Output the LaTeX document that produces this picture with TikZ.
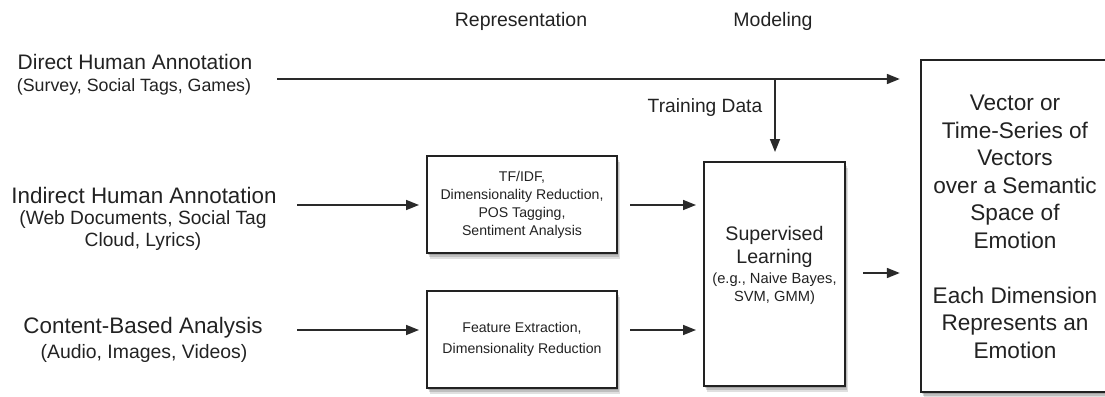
\documentclass[tikz,border=0pt]{standalone}
\usepackage{fontspec}
\setmainfont{Liberation Sans}
\usetikzlibrary{arrows.meta}
\definecolor{ink}{HTML}{222222}
\definecolor{wire}{HTML}{2A2A2A}
\tikzset{
  txt/.style={text=ink, inner sep=0pt, align=center},
  softshadow/.style={
    preaction={fill=black, opacity=0.15, transform canvas={xshift=1pt,yshift=-2pt}},
    preaction={fill=black, opacity=0.15, transform canvas={xshift=2pt,yshift=-4pt}},
    preaction={fill=black, opacity=0.12, transform canvas={xshift=3pt,yshift=-6pt}}},
  boxnode/.style={draw=ink, line width=2pt, fill=white, inner sep=0pt, softshadow},
  arr/.style={draw=wire, line width=1.7pt, -{Triangle[length=13pt,width=10pt]}},
}
\begin{document}
\begin{tikzpicture}[x=1pt,y=-1pt]
\useasboundingbox (0,0) rectangle (1105,396);
\clip (0,0) rectangle (1105,396);
% headings
\node[txt,font=\fontsize{19.5}{22}\selectfont] (rep) at (521,21) {Representation};
\node[txt,font=\fontsize{19.5}{22}\selectfont] (mod) at (773,21) {Modeling};
% left labels
\node[txt,font=\fontsize{21}{25}\selectfont] (direct) at (135,62) {Direct Human Annotation};
\node[txt,font=\fontsize{17.8}{22}\selectfont] (directsub) at (134,87) {(Survey, Social Tags, Games)};
\node[txt,font=\fontsize{22.4}{26}\selectfont] (indirect) at (144,195) {Indirect Human Annotation};
\node[txt,font=\fontsize{19.2}{22}\selectfont] (indirectsub) at (143,231) {(Web Documents, Social Tag\\Cloud, Lyrics)};
\node[txt,font=\fontsize{22.4}{26}\selectfont] (content) at (143,328) {Content-Based Analysis};
\node[txt,font=\fontsize{19.4}{22}\selectfont] (contentsub) at (144,353) {(Audio, Images, Videos)};
% boxes
\node[boxnode, minimum width=190pt, minimum height=97pt] (tf) at (522,204.5) {};
\node[txt,font=\fontsize{14.1}{18}\selectfont] (tftext) at (tf.center) {TF/IDF,\\Dimensionality Reduction,\\POS Tagging,\\Sentiment Analysis};
\node[boxnode, minimum width=190pt, minimum height=97pt] (fe) at (522,339.5) {};
\node[txt,font=\fontsize{14.1}{21}\selectfont] (fetext) at (fe.center) {Feature Extraction,\\Dimensionality Reduction};
\node[boxnode, minimum width=141pt, minimum height=224pt] (sl) at (774.5,274) {};
\node[txt,font=\fontsize{19.6}{23}\selectfont] (sltitle) at (774.5,246.5) {Supervised\\Learning};
\node[txt,font=\fontsize{14.7}{18}\selectfont] (slsub) at (774.5,289) {(e.g., Naive Bayes,\\SVM, GMM)};
\node[fill=white, softshadow, inner sep=0pt, minimum width=210pt, minimum height=332pt] (out) at (1026,226) {};
\draw[draw=ink, line width=2pt] (out.north east) -- (out.north west) -- (out.south west) -- (out.south east);
\node[txt,font=\fontsize{22.6}{27.5}\selectfont] (outtext) at (1015,227) {Vector or\\Time-Series of\\Vectors\\over a Semantic\\Space of\\Emotion\\[27.5pt]Each Dimension\\Represents an\\Emotion};
% training data label
\node[txt,font=\fontsize{19.2}{22}\selectfont] (train) at (705,108) {Training Data};
% connectors
\coordinate (d1) at (277,79);
\coordinate (tb) at (775,79);
\coordinate (i1) at (297,205);
\coordinate (c1) at (297,330);
\draw[arr, shorten >=21pt] (d1) -- (d1 -| out.west);
\draw[arr, shorten >=9pt] (tb) -- (tb |- sl.north);
\draw[arr, shorten >=7pt] (i1) -- (i1 -| tf.west);
\draw[arr, shorten >=7pt] (c1) -- (c1 -| fe.west);
\draw[arr, shorten <=12pt, shorten >=7pt] (i1 -| tf.east) -- (i1 -| sl.west);
\draw[arr, shorten <=12pt, shorten >=7pt] (c1 -| fe.east) -- (c1 -| sl.west);
\draw[arr, shorten <=17pt, shorten >=21pt] (sl.east |- 0,273) -- (out.west |- 0,273);
\end{tikzpicture}
\end{document}
